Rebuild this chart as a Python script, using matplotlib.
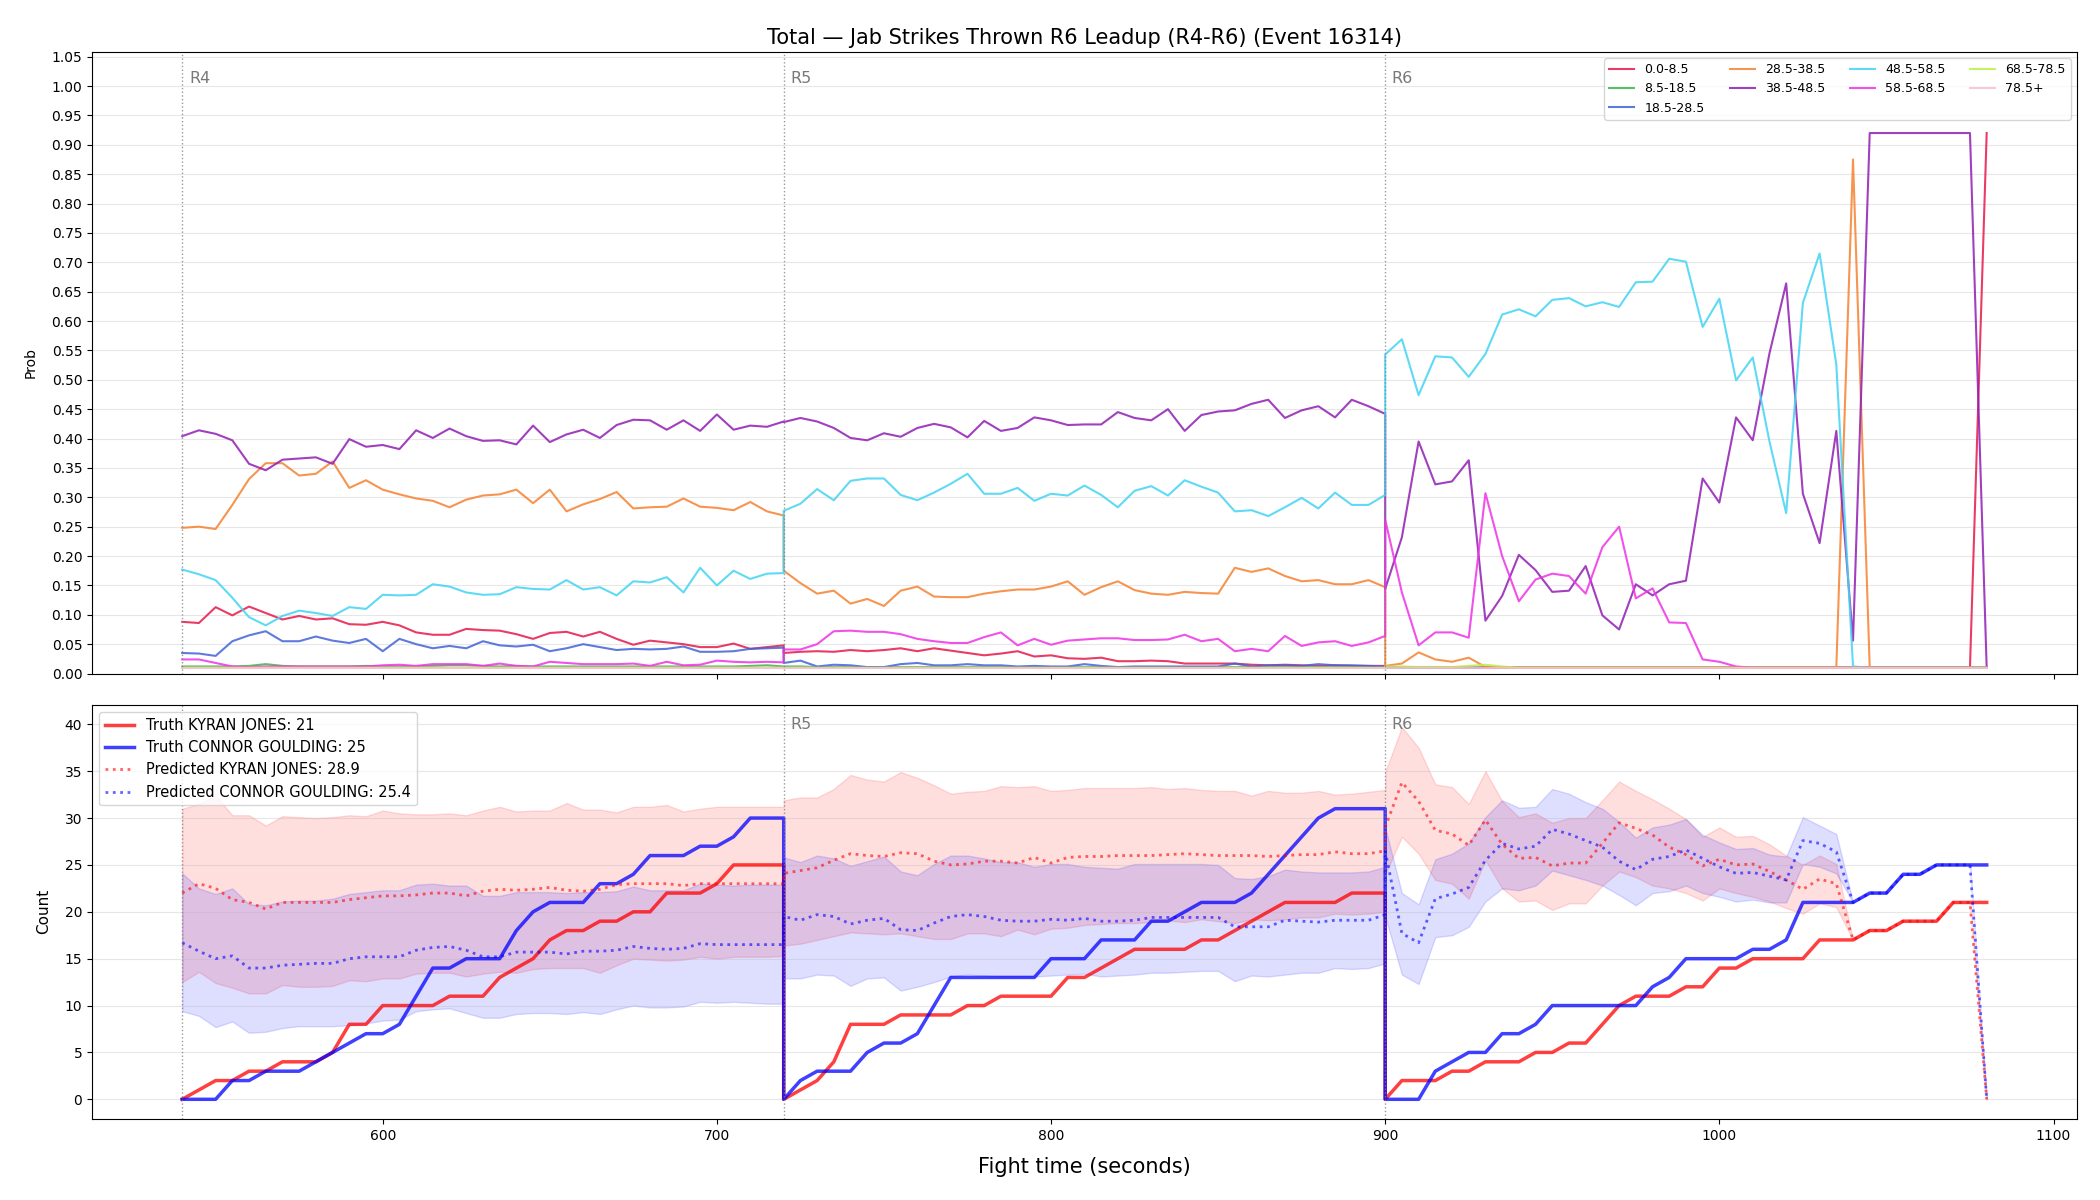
import numpy as np
import matplotlib
matplotlib.use("Agg")
import matplotlib.pyplot as plt
from matplotlib.ticker import MultipleLocator, FormatStrFormatter

# ---------------- data ----------------
round_names = ["R4", "R5", "R6"]
round_starts = [540, 720, 900]
round_len = 180
step = 5

bin_labels = ["0.0-8.5", "8.5-18.5", "18.5-28.5", "28.5-38.5", "38.5-48.5",
              "48.5-58.5", "58.5-68.5", "68.5-78.5", "78.5+"]
bin_colors = ["#e6194B", "#3cb44b", "#4363d8", "#f58231", "#911eb4",
              "#42d4f4", "#f032e6", "#bfef45", "#fabed4"]

p_0_8 = ([0.088,0.086,0.113,0.099,0.114,0.103,0.092,0.098,0.092,0.094,0.084,0.083,0.088,0.082,0.070,0.066,0.066,0.076,0.074,0.073,0.067,0.059,0.069,0.071,0.063,0.071,0.059,0.049,0.056,0.053,0.050,0.045,0.045,0.051,0.042,0.045,0.048]
         + [0.035,0.037,0.038,0.037,0.040,0.038,0.040,0.043,0.038,0.043,0.039,0.035,0.031,0.034,0.038,0.029,0.031,0.026,0.025,0.027,0.021,0.021,0.022,0.021,0.017,0.017,0.017,0.017,0.015,0.014,0.015,0.014,0.013,0.014,0.013,0.013,0.013]
         + [0.011] + [0.01]*35 + [0.92])
p_8_18 = ([0.012,0.012,0.012,0.012,0.013,0.016,0.013,0.012,0.012,0.012,0.012,0.013,0.012,0.012,0.012,0.013,0.014,0.014,0.013,0.012,0.013,0.012,0.012,0.012,0.012,0.012,0.012,0.012,0.012,0.012,0.012,0.012,0.012,0.012,0.013,0.014,0.012]
          + [0.012,0.012,0.011,0.011,0.011,0.011,0.011,0.011,0.011,0.011,0.011,0.011,0.011,0.011,0.011,0.011,0.011,0.011,0.011,0.011,0.011,0.011,0.011,0.011,0.011,0.011,0.011,0.011,0.011,0.011,0.011,0.011,0.011,0.011,0.011,0.011,0.011]
          + [0.01]*37)
p_18_28 = ([0.035,0.034,0.030,0.055,0.065,0.072,0.055,0.055,0.063,0.056,0.052,0.059,0.038,0.059,0.050,0.043,0.047,0.043,0.055,0.048,0.046,0.049,0.038,0.043,0.050,0.045,0.040,0.042,0.041,0.042,0.046,0.037,0.037,0.038,0.042,0.043,0.044]
           + [0.018,0.022,0.012,0.015,0.014,0.011,0.011,0.016,0.018,0.014,0.014,0.016,0.014,0.014,0.012,0.013,0.012,0.012,0.016,0.013,0.011,0.012,0.012,0.012,0.012,0.012,0.012,0.017,0.012,0.014,0.014,0.013,0.016,0.014,0.014,0.013,0.012]
           + [0.011] + [0.01]*36)
p_28_38 = ([0.248,0.250,0.246,0.287,0.331,0.358,0.358,0.337,0.340,0.361,0.316,0.329,0.313,0.305,0.298,0.294,0.283,0.296,0.303,0.305,0.313,0.290,0.313,0.276,0.288,0.297,0.309,0.281,0.283,0.284,0.298,0.284,0.282,0.278,0.292,0.276,0.269]
           + [0.175,0.154,0.136,0.141,0.119,0.127,0.115,0.141,0.148,0.131,0.130,0.130,0.136,0.140,0.143,0.143,0.148,0.157,0.134,0.147,0.157,0.142,0.136,0.134,0.139,0.137,0.136,0.180,0.173,0.179,0.166,0.157,0.159,0.152,0.152,0.159,0.147]
           + [0.013,0.017,0.036,0.024,0.020,0.027,0.011] + [0.01]*21 + [0.875] + [0.01]*8)
p_38_48 = ([0.404,0.414,0.408,0.397,0.357,0.346,0.364,0.366,0.368,0.357,0.399,0.386,0.389,0.382,0.414,0.401,0.417,0.404,0.396,0.397,0.390,0.422,0.394,0.407,0.415,0.401,0.423,0.432,0.431,0.415,0.431,0.413,0.441,0.415,0.422,0.420,0.429]
           + [0.428,0.435,0.429,0.418,0.401,0.397,0.409,0.403,0.418,0.425,0.419,0.402,0.430,0.413,0.418,0.436,0.431,0.423,0.424,0.424,0.445,0.435,0.431,0.450,0.413,0.440,0.446,0.448,0.459,0.466,0.435,0.448,0.455,0.436,0.466,0.455,0.442]
           + [0.144,0.232,0.395,0.322,0.327,0.363,0.090,0.132,0.202,0.176,0.139,0.141,0.183,0.099,0.075,0.152,0.133,0.152,0.158,0.332,0.291,0.436,0.397,0.545,0.664,0.306,0.222,0.413,0.056] + [0.92]*7 + [0.01])
p_48_58 = ([0.177,0.169,0.159,0.129,0.096,0.082,0.098,0.107,0.103,0.098,0.113,0.110,0.134,0.133,0.134,0.152,0.148,0.138,0.134,0.135,0.147,0.144,0.143,0.159,0.143,0.147,0.133,0.157,0.155,0.164,0.138,0.180,0.150,0.175,0.161,0.170,0.171]
           + [0.277,0.289,0.314,0.295,0.328,0.332,0.332,0.304,0.295,0.308,0.323,0.340,0.306,0.306,0.316,0.294,0.306,0.303,0.320,0.304,0.283,0.311,0.319,0.303,0.329,0.318,0.308,0.276,0.278,0.268,0.283,0.299,0.281,0.308,0.287,0.287,0.304]
           + [0.543,0.569,0.474,0.540,0.538,0.505,0.544,0.611,0.620,0.608,0.636,0.639,0.625,0.632,0.624,0.666,0.667,0.706,0.701,0.590,0.638,0.499,0.538,0.395,0.273,0.631,0.715,0.526,0.012] + [0.01]*8)
p_58_68 = ([0.024,0.024,0.018,0.012,0.011,0.012,0.012,0.012,0.012,0.012,0.012,0.012,0.014,0.015,0.013,0.016,0.016,0.016,0.013,0.017,0.013,0.012,0.020,0.018,0.016,0.016,0.016,0.017,0.013,0.020,0.014,0.015,0.022,0.020,0.019,0.020,0.019]
           + [0.041,0.041,0.050,0.072,0.073,0.071,0.071,0.067,0.059,0.055,0.052,0.052,0.062,0.070,0.048,0.059,0.049,0.056,0.058,0.060,0.060,0.057,0.057,0.058,0.066,0.055,0.059,0.038,0.042,0.038,0.064,0.047,0.053,0.055,0.047,0.053,0.064]
           + [0.262,0.138,0.048,0.070,0.070,0.061,0.307,0.200,0.123,0.160,0.170,0.166,0.136,0.215,0.250,0.128,0.145,0.087,0.086,0.024,0.020,0.012] + [0.01]*15)
p_68_78 = [0.01]*37 + [0.01]*37 + [0.012,0.012,0.011,0.011,0.011,0.013,0.015,0.012] + [0.01]*29
p_78_plus = [0.01]*111

probs = [p_0_8, p_8_18, p_18_28, p_28_38, p_38_48, p_48_58, p_58_68, p_68_78, p_78_plus]

fighter_a = "KYRAN JONES"
fighter_b = "CONNOR GOULDING"
final_truth_a, final_truth_b = 21, 25
final_pred_a, final_pred_b = 28.9, 25.4

truth_a = ([0,1,2,2,3,3,4,4,4,5,8,8,10,10,10,10,11,11,11,13,14,15,17,18,18,19,19,20,20,22,22,22,23,25,25,25,25]
           + [0,1,2,4,8,8,8,9,9,9,9,10,10,11,11,11,11,13,13,14,15,16,16,16,16,17,17,18,19,20,21,21,21,21,22,22,22]
           + [0,2,2,2,3,3,4,4,4,5,5,6,6,8,10,11,11,11,12,12,14,14,15,15,15,15,17,17,17,18,18,19,19,19,21,21,21])
truth_b = ([0,0,0,2,2,3,3,3,4,5,6,7,7,8,11,14,14,15,15,15,18,20,21,21,21,23,23,24,26,26,26,27,27,28,30,30,30]
           + [0,2,3,3,3,5,6,6,7,10,13,13,13,13,13,13,15,15,15,17,17,17,19,19,20,21,21,21,22,24,26,28,30,31,31,31,31]
           + [0,0,0,3,4,5,5,7,7,8,10,10,10,10,10,10,12,13,15,15,15,15,16,16,17,21,21,21,21,22,22,24,24,25,25,25,25])

pred_a = ([22.0,23.0,22.5,21.3,21.0,20.3,21.0,21.0,21.0,21.0,21.3,21.5,21.7,21.7,21.8,22.0,22.0,21.7,22.2,22.4,22.3,22.4,22.6,22.3,22.2,22.4,22.9,23.0,23.0,23.0,22.8,23.0,23.0,23.0,23.0,23.0,23.0]
          + [24.1,24.4,24.7,25.5,26.2,26.0,25.9,26.3,26.2,25.4,25.0,25.1,25.4,25.4,25.2,25.8,25.2,25.8,25.9,25.9,26.0,26.0,26.0,26.1,26.2,26.1,26.0,26.0,26.0,25.9,26.0,26.1,26.1,26.4,26.2,26.2,26.5]
          + [29.0,33.8,31.8,28.7,28.3,27.1,29.8,27.2,25.7,25.8,24.9,25.2,25.2,27.3,29.5,28.9,28.2,26.9,26.1,24.9,25.6,25.0,25.1,24.3,23.4,22.4,23.5,23.0,17,18,18,19,19,19,21,21,0])
pred_b = ([16.7,15.8,15.0,15.3,14.0,14.0,14.3,14.4,14.5,14.5,15.0,15.2,15.2,15.2,15.9,16.2,16.3,15.9,15.2,15.2,15.7,15.7,15.7,15.5,15.8,15.8,15.9,16.3,16.1,16.0,16.1,16.6,16.5,16.5,16.5,16.5,16.5]
          + [19.5,19.1,19.7,19.5,18.7,19.1,19.3,18.1,18.0,18.8,19.5,19.7,19.5,19.1,19.0,19.0,19.2,19.1,19.3,19.0,19.0,19.1,19.4,19.4,19.4,19.4,19.4,18.4,18.4,18.4,19.1,19.0,18.9,19.1,19.1,19.1,19.7]
          + [26.5,17.7,16.7,21.4,21.9,22.6,25.5,27.3,26.7,27.0,28.8,28.3,27.6,26.9,25.4,24.5,25.6,25.9,26.6,25.7,24.8,24.1,24.2,23.8,23.4,27.6,27.3,26.4,21,22,22,24,24,25,25,25,0])

upper_a = ([31.0,31.5,32.4,30.3,30.3,29.2,30.2,30.1,30.0,30.1,30.3,30.2,30.8,30.5,30.4,30.4,30.5,30.3,30.8,31.2,30.7,30.8,30.8,31.6,30.9,30.9,30.6,31.2,31.2,31.4,30.7,31.0,31.2,31.2,31.2,31.2,31.2]
           + [31.9,32.2,32.2,33.1,34.6,34.1,33.9,34.9,34.3,33.5,32.6,32.8,32.9,33.4,33.3,33.4,32.9,33.0,33.2,33.2,33.2,33.2,33.3,33.1,33.2,33.0,32.9,32.9,32.4,32.9,32.7,32.7,32.9,32.5,32.6,32.8,33.0]
           + [34.9,39.7,37.5,33.6,33.3,31.5,35.0,31.8,30.1,30.5,29.5,30.0,30.0,31.9,33.9,32.9,32.0,31.0,29.9,28.0,29.0,28.0,28.1,27.2,26.0,25.0,26.0,25.1,17,18,18,19,19,19,21,21,0])
lower_a = ([12.5,13.6,12.4,11.9,11.3,11.3,12.2,12.0,12.0,12.1,12.7,12.6,12.9,12.9,13.4,13.5,13.5,13.1,13.4,13.6,13.5,13.9,14.0,14.0,14.0,13.5,14.3,15.0,14.9,14.8,14.9,15.2,15.0,15.2,15.2,15.2,15.3]
           + [16.4,16.6,17.0,17.4,17.8,17.7,17.6,17.7,17.4,17.1,17.1,17.7,17.7,17.4,18.1,17.6,18.2,18.3,18.6,18.7,18.8,18.8,18.9,19.1,18.9,19.2,19.0,18.8,19.2,19.1,19.2,19.4,19.4,19.8,19.7,19.8,20.0]
           + [24.0,28.0,26.2,23.4,23.0,21.4,25.5,22.5,21.1,21.2,20.2,20.9,20.9,22.8,24.3,23.7,22.8,22.5,22.0,21.2,22.5,22.0,21.6,21.1,20.4,19.8,20.9,20.5,17,18,18,19,19,19,21,21,0])
upper_b = ([24.1,22.5,21.9,22.5,20.8,20.7,21.1,21.2,21.2,21.4,21.9,22.1,22.3,22.3,22.9,23.0,22.8,22.8,21.7,21.7,22.1,22.1,22.1,22.0,22.1,22.1,22.2,22.7,22.3,22.3,22.3,23.0,22.9,22.8,22.9,22.9,22.9]
           + [25.8,25.3,26.0,25.7,24.9,25.4,25.9,24.3,23.9,25.1,26.0,26.0,25.7,25.3,25.3,24.8,25.1,25.1,24.8,24.7,24.6,25.1,25.1,25.1,25.1,25.1,25.0,23.6,23.5,23.8,24.5,24.3,24.2,24.2,24.2,24.3,24.8]
           + [29.0,22.0,20.8,25.6,26.2,27.3,30.1,31.9,31.1,31.2,33.1,32.6,31.7,31.0,29.6,27.9,29.0,29.3,29.9,28.2,27.4,26.7,26.8,26.1,25.9,30.1,29.2,28.3,21,22,22,24,24,25,25,25,0])
lower_b = ([9.4,8.9,7.7,8.3,7.1,7.2,7.6,7.8,7.8,7.8,7.9,8.1,8.4,8.5,9.4,9.6,9.7,9.2,8.7,8.7,9.1,9.2,9.2,9.1,9.3,9.1,9.6,10.0,9.8,9.8,9.9,10.4,10.3,10.4,10.3,10.2,10.2]
           + [12.9,12.9,13.3,13.2,12.1,12.9,13.0,11.6,12.0,12.5,13.1,13.3,13.2,13.1,13.1,13.1,13.2,13.3,13.4,13.1,13.2,13.3,13.5,13.5,13.6,13.7,13.7,12.6,13.2,13.1,13.3,13.5,13.5,14.0,13.9,14.0,14.5]
           + [19.5,13.3,12.3,17.3,17.5,18.4,21.1,22.5,22.3,22.8,24.4,23.9,23.4,22.8,21.8,20.7,22.0,22.2,22.8,22.0,21.6,21.1,21.3,21.0,21.0,25.1,24.8,24.1,21,22,22,24,24,25,25,25,0])

# time axis: each round sampled every 5 s, endpoints included
t = np.concatenate([np.arange(s, s + round_len + step, step) for s in round_starts])

# ---------------- figure ----------------
fig, (ax1, ax2) = plt.subplots(2, 1, figsize=(21, 12), dpi=100, sharex=True,
                               gridspec_kw={"height_ratios": [3, 2]})
fig.subplots_adjust(left=0.0438, right=0.989, top=0.9567, bottom=0.0675, hspace=0.06)

for lab, col, vals in zip(bin_labels, bin_colors, probs):
    ax1.plot(t, vals, color=col, lw=1.5, alpha=0.85, label=lab)

ax1.set_ylim(0, 0.92 * 1.15)
ax1.yaxis.set_major_locator(MultipleLocator(0.05))
ax1.yaxis.set_major_formatter(FormatStrFormatter("%.2f"))
ax1.set_ylabel("Prob", fontsize=10, labelpad=10)
ax1.grid(axis="y", alpha=0.3)
ax1.set_title("Total \u2014 Jab Strikes Thrown R6 Leadup (R4-R6) (Event 16314)", fontsize=15)
ax1.legend(loc="upper right", ncol=4, fontsize=9)

# bottom panel
ax2.fill_between(t, lower_a, upper_a, color="red", alpha=0.13)
ax2.fill_between(t, lower_b, upper_b, color="blue", alpha=0.13)
ax2.plot(t, truth_a, color="red", lw=2.5, alpha=0.75, label=f"Truth {fighter_a}: {final_truth_a}")
ax2.plot(t, truth_b, color="blue", lw=2.5, alpha=0.75, label=f"Truth {fighter_b}: {final_truth_b}")
ax2.plot(t, pred_a, color="red", lw=2, ls=":", alpha=0.6, label=f"Predicted {fighter_a}: {final_pred_a}")
ax2.plot(t, pred_b, color="blue", lw=2, ls=":", alpha=0.6, label=f"Predicted {fighter_b}: {final_pred_b}")
ax2.set_ylim(-2.1, 42.1)
ax2.set_ylabel("Count", fontsize=11, labelpad=10)
ax2.set_xlabel("Fight time (seconds)", fontsize=15, labelpad=10)
ax2.grid(axis="y", alpha=0.3)
ax2.legend(loc="upper left", fontsize=10.5)

for ax, labelled in ((ax1, round_names), (ax2, ["", "R5", "R6"])):
    ax.tick_params(labelsize=10)
    for name, s in zip(labelled, round_starts):
        ax.axvline(s, color="gray", ls=":", lw=1, alpha=0.8)
        if name:
            ax.text(s + 2, 0.97, name, transform=ax.get_xaxis_transform(),
                    ha="left", va="top", color="dimgray", fontsize=11.5, alpha=0.9, zorder=1)

fig.savefig("out.png", dpi=100)
